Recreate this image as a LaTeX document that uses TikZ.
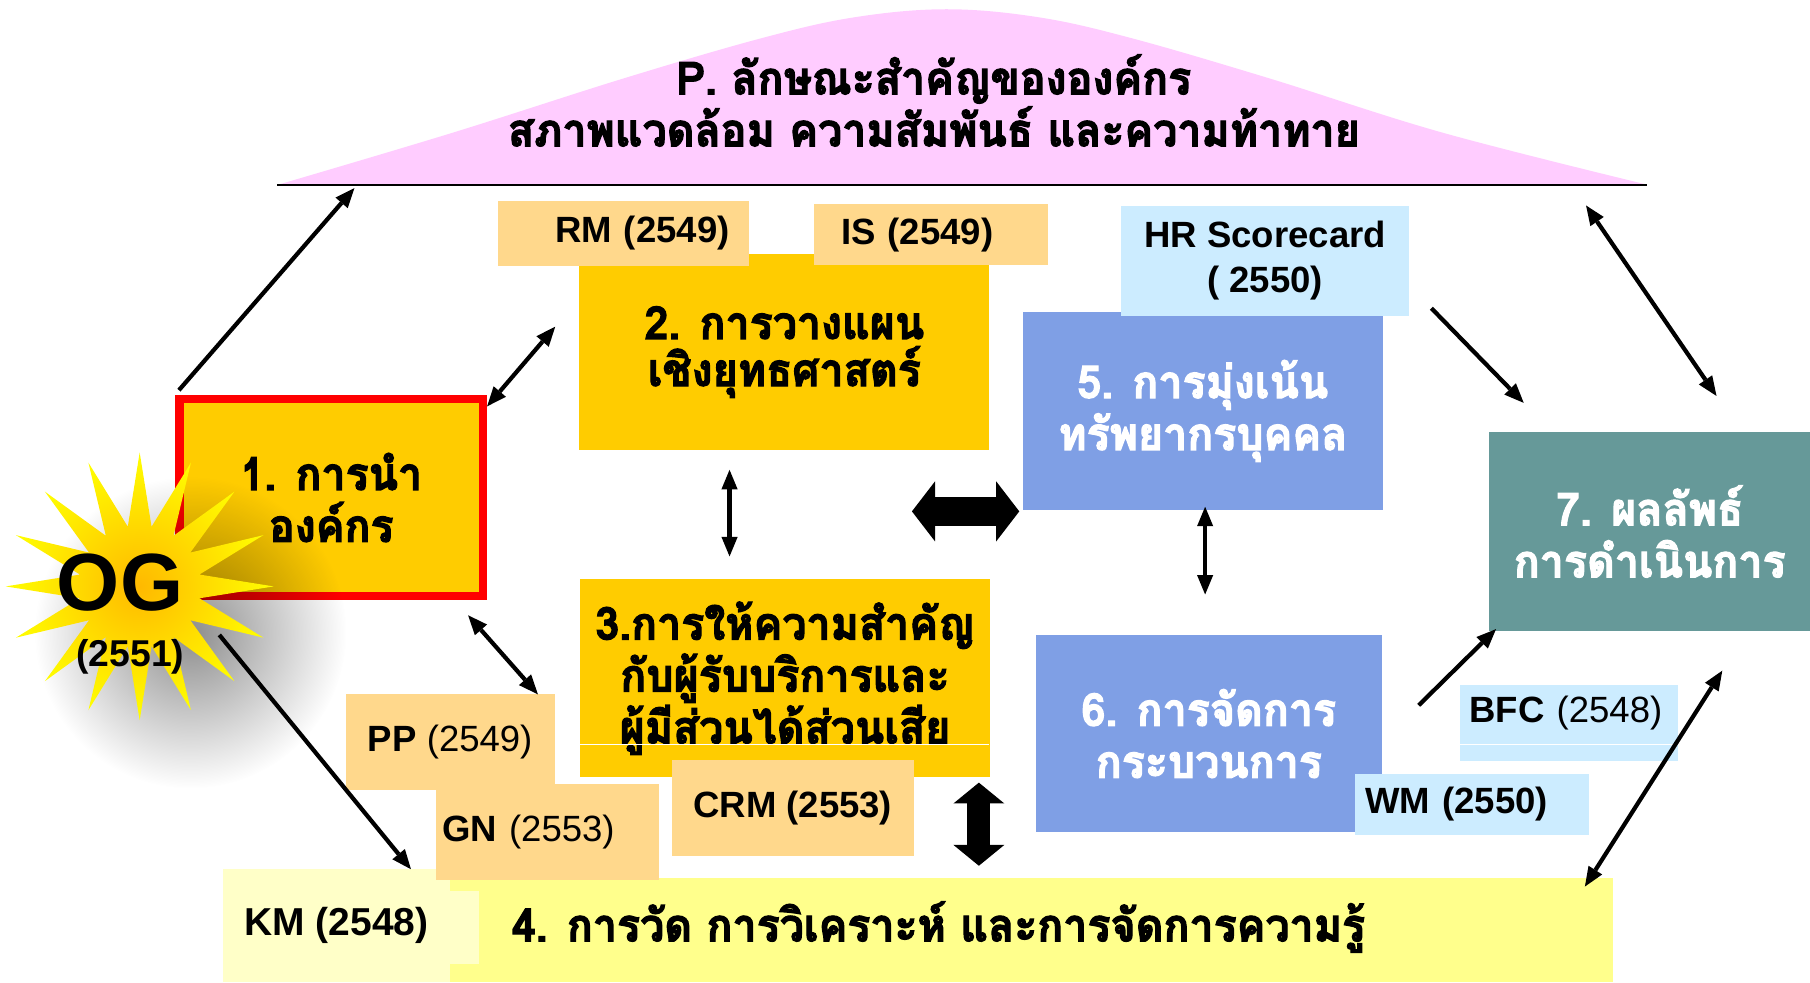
\documentclass[tikz,border=0pt]{standalone}
\usepackage{fontspec}
\setmainfont{Liberation Sans}
\newfontfamily\thaifont[Script=Thai, FakeStretch=0.945, FakeBold=2.5]{Loma}
\usetikzlibrary{arrows.meta,shapes.geometric,fadings}
\definecolor{gold}{HTML}{FFCC00}
\definecolor{peach}{HTML}{FFD88C}
\definecolor{skyblue}{HTML}{CCECFF}
\definecolor{periwinkle}{HTML}{7F9FE5}
\definecolor{sea}{HTML}{669999}
\definecolor{lemon}{HTML}{FFFF8C}
\definecolor{cream}{HTML}{FFFFC8}
\definecolor{lilac}{HTML}{FFCCFF}
\tikzfading[name=softblob, inner color=transparent!55, outer color=transparent!100]
\tikzset{
  box/.style={inner sep=0pt, align=center},
  thai/.style={align=center, font=\thaifont\bfseries\fontsize{28}{32}\selectfont},
  tag/.style={box, font=\bfseries\fontsize{22.5}{27}\selectfont},
  bigarr/.style={line width=0.62cm, {Triangle[length=0.5cm,width=1.3cm,line width=0pt]}-{Triangle[length=0.5cm,width=1.3cm,line width=0pt]}},
  bigarrv/.style={line width=0.5cm, {Triangle[length=0.45cm,width=1.1cm,line width=0pt]}-{Triangle[length=0.45cm,width=1.1cm,line width=0pt]}}
}
\begin{document}
\begin{tikzpicture}[x=0.025cm, y=-0.025cm, line width=2.6pt, >={Triangle[length=12pt,width=10pt,line width=0pt]}]
    \useasboundingbox (0,0) rectangle (1568,851);
    \fill[lilac] plot[smooth, tension=0.6] coordinates {(241,160) (392,115) (540,68) (660,33) (740,15) (820,8) (900,15) (980,33) (1100,68) (1250,115) (1427,160)} -- cycle;
    \draw[line width=1.2pt] (240,160) -- (1427,160);
    \node[thai] (P) at (809,87) {P. ลักษณะสำคัญขององค์กร\\สภาพแวดล้อม ความสัมพันธ์ และความท้าทาย};

    \node[box, thai, fill=gold, draw=red, line width=5pt, minimum width=6.575cm, minimum height=4.275cm] (c1) at (287,431) {1. การนำ\\องค์กร};
    \node[box, thai, fill=gold, minimum width=8.875cm, minimum height=4.25cm, font=\thaifont\bfseries\fontsize{28}{29}\selectfont] (c2) at (679.5,305) {2. การวางแผน\\เชิงยุทธศาสตร์};
    \node[box, thai, fill=gold, minimum width=8.875cm, minimum height=4.275cm] (c3) at (680,587.5) {3.การให้ความสำคัญ\\กับผู้รับบริการและ\\ผู้มีส่วนได้ส่วนเสีย};
    \draw[white, line width=0.8pt] (502,645) -- (857,645);
    \node[box, fill=lemon, minimum width=29.225cm, minimum height=2.25cm] (c4) at (812.5,806) {};
    \node[thai] (c4t) at (813,803) {4. การวัด การวิเคราะห์ และการจัดการความรู้};
    \node[box, thai, text=white, fill=periwinkle, minimum width=7.79cm, minimum height=4.3cm] (c5) at (1042,356) {5. การมุ่งเน้น\\ทรัพยากรบุคคล};
    \node[box, thai, text=white, fill=periwinkle, minimum width=7.4875cm, minimum height=4.275cm] (c6) at (1047.25,635.5) {6. การจัดการ\\กระบวนการ};
    \node[box, thai, text=white, fill=sea, minimum width=6.9425cm, minimum height=4.2975cm] (c7) at (1429.15,460.45) {7. ผลลัพธ์\\การดำเนินการ};

    \node[tag, fill=peach, minimum height=1.4cm, text width=4.6cm, inner xsep=0.41cm, align=right] (RM) at (540,202) {RM (2549)};
    \node[tag, fill=peach, minimum height=1.315cm, text width=3.895cm, inner xsep=0.59cm, align=left] (IS) at (806.5,203.3) {IS (2549)};
    \node[tag, fill=skyblue, minimum width=6.25cm, minimum height=2.375cm, font=\bfseries\fontsize{22.5}{27.6}\selectfont] (HR) at (1096,226) {HR Scorecard\\( 2550)};
    \fill[cream] (193,772) rectangle (415,835);
    \node[tag, fill=cream, minimum width=4.925cm, minimum height=2.45cm, font=\bfseries\fontsize{24}{28}\selectfont] (KM) at (291.5,802) {KM (2548)};
    \node[tag, fill=peach, minimum width=4.525cm, minimum height=2.075cm] (PP) at (390,642.5) {PP \mdseries(2549)};
    \node[tag, fill=peach, minimum height=2.075cm, text width=4.55cm, inner xsep=0.14cm, align=left] (GN) at (474,720.5) {GN \mdseries(2553)};
    \node[tag, fill=peach, minimum width=5.2375cm, minimum height=2.075cm] (CRM) at (686.75,700) {CRM (2553)};
    \node[tag, fill=skyblue, minimum height=1.3125cm, text width=4.615cm, inner xsep=0.225cm, align=left] (WM) at (1275,696.75) {WM (2550)};
    \node[tag, fill=skyblue, minimum height=1.64cm, text width=4.3125cm, inner xsep=0.21cm, align=left, text depth=0.6cm] (BFC) at (1359.25,626.2) {BFC \mdseries(2548)};
    \draw[white, line width=0.8pt] (1265,645) -- (1454,645);

    \fill[black, path fading=softblob] (165,548) circle (135);
    \node[star, star points=16, star point ratio=2.2, minimum size=5.8cm, inner sep=0pt, shade, inner color={rgb,255:red,255;green,185;blue,0}, outer color=yellow] (OG) at (121,508) {};
    \node[font=\bfseries\fontsize{50}{60}\selectfont] (OGt) at (104,505) {OG};
    \node[font=\bfseries\fontsize{23}{27}\selectfont] (OGy) at (113,569) {(2551)};

    \coordinate (a1s) at (155,338); \coordinate (a1e) at (307,163);
    \coordinate (a2s) at (422,352); \coordinate (a2e) at (481,283);
    \coordinate (a3s) at (632,407); \coordinate (a3e) at (632,482);
    \coordinate (a5s) at (1044,439); \coordinate (a5e) at (1044,515);
    \coordinate (a7s) at (405.5,533); \coordinate (a7e) at (466,601.5);
    \coordinate (a8s) at (190,550); \coordinate (a8e) at (356,753);
    \coordinate (a9s) at (1240,267); \coordinate (a9e) at (1320,349);
    \coordinate (a10s) at (1374,178); \coordinate (a10e) at (1487,343);
    \coordinate (a11s) at (1229,611); \coordinate (a11e) at (1296,545);
    \coordinate (a12s) at (1373,768); \coordinate (a12e) at (1492,581);
    \coordinate (b4s) at (790,443); \coordinate (b4e) at (883,443);
    \coordinate (b6s) at (848,678); \coordinate (b6e) at (848,750);
    \draw (a1s) edge[->] (a1e) (a8s) edge[->] (a8e) (a9s) edge[->] (a9e) (a11s) edge[->] (a11e);
    \draw (a2s) edge[<->] (a2e) (a3s) edge[<->] (a3e) (a5s) edge[<->] (a5e) (a7s) edge[<->] (a7e) (a10s) edge[<->] (a10e) (a12s) edge[<->] (a12e);
    \draw (b4s) edge[bigarr] (b4e) (b6s) edge[bigarrv] (b6e);
\end{tikzpicture}
\end{document}
